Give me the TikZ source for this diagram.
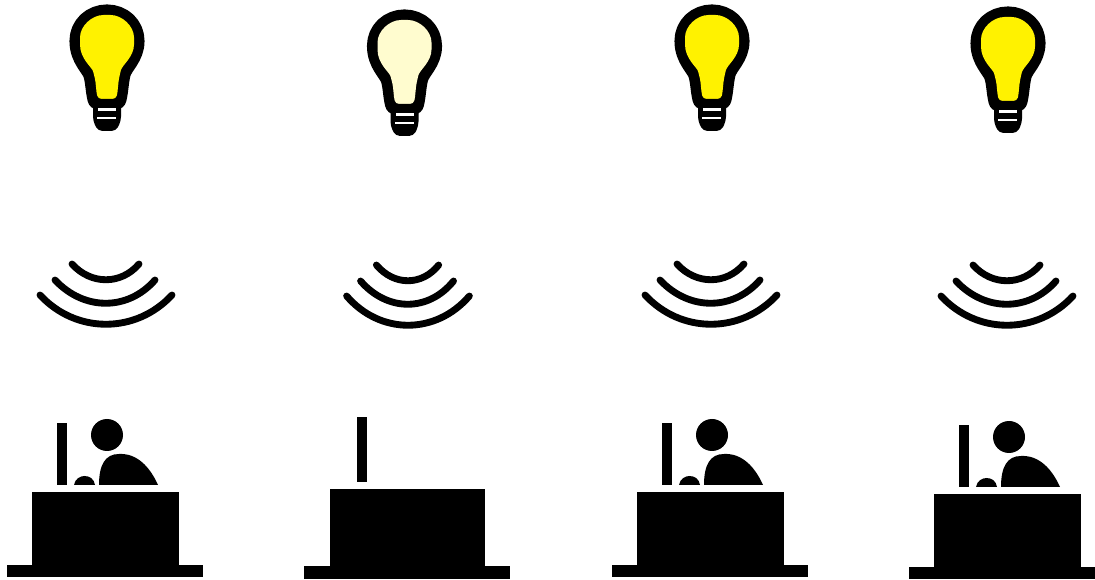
\documentclass[tikz,border=0pt]{standalone}
\definecolor{bulbon}{HTML}{FFF200}
\definecolor{bulboff}{HTML}{FFFCCF}
\tikzset{
  ring/.style={line width=3.9pt, line cap=round},
  bulb/.pic={
    \def\glass{(-9,58) .. controls (-11,50) and (-11,42) .. (-13,34)
      .. controls (-15,26) and (-27,18) .. (-27,0)
      .. controls (-27,-15) and (-15,-26) .. (0,-26)
      .. controls (15,-26) and (27,-15) .. (27,0)
      .. controls (27,16) and (15,24) .. (13,33)
      .. controls (11,42) and (11,50) .. (9,58) -- cycle}
    \draw[line width=12pt, line join=round] \glass;
    \fill[rounded corners=2pt, #1] \glass;
    % screw base
    \fill[rounded corners=2.5pt] (-14,58) -- (14,58) -- (14,80) -- (9,90) -- (-9,90) -- (-14,80) -- cycle;
    \fill[white] (-9,67.5) rectangle (9,70);
    \fill[white] (-10,76) rectangle (9,78.5);
  },
  waves/.pic={
    \draw[ring] (-66,35) .. controls (-30,74) and (30,74) .. (66,35);
    \draw[ring] (-51,20) .. controls (-22,51) and (22,51) .. (49,20);
    \draw[ring] (-34,4) .. controls (-15,25) and (15,25) .. (33,4);
  },
  desk/.pic={
    \fill (0,0) rectangle (196,-12);
    \fill (25,-12) rectangle (172,-85);
    \fill (50,-92) rectangle (60,-154);
  },
  person/.pic={
    \fill (100,-142) circle[radius=16];
    \fill (92,-92) .. controls (92,-112) and (98,-123) .. (112,-123)
      .. controls (130,-124) and (143,-110) .. (151,-92) -- cycle;
    \fill (67,-92) .. controls (68,-98) and (73,-101) .. (77.5,-101)
      .. controls (83,-101) and (87,-98) .. (88,-92) -- cycle;
  }
}
\begin{document}
\begin{tikzpicture}[x=0.02cm, y=-0.02cm]
  \useasboundingbox (0,0) rectangle (1095,580);
  % lamps
  \pic at (107,41) {bulb=bulbon};
  \pic at (404.5,46) {bulb=bulboff};
  \pic at (712,41) {bulb=bulbon};
  \pic at (1008,43) {bulb=bulbon};
  % signal
  \pic at (106,260) {waves};
  \pic[xscale=0.93] at (408,261) {waves};
  \pic at (711,260) {waves};
  \pic at (1007,261) {waves};
  % desks
  \pic at (7,577) {desk};
  \pic at (7,577) {person};
  \pic[scale=1.053] at (304,579) {desk};
  \pic at (612,577) {desk};
  \pic at (612,577) {person};
  \pic at (909,579) {desk};
  \pic at (909,579) {person};
\end{tikzpicture}
\end{document}
